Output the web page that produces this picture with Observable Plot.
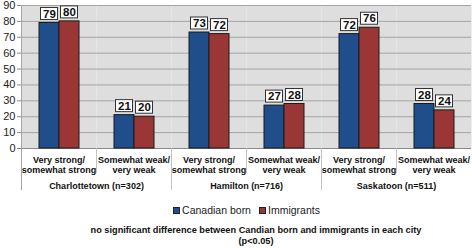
<!DOCTYPE html>
<html><head><meta charset="utf-8">
<script src="https://cdn.jsdelivr.net/npm/d3@7"></script>
<script src="https://cdn.jsdelivr.net/npm/@observablehq/plot@0.6"></script>
<style>
body{margin:0;background:#fff;font-family:"Liberation Sans",Arial,sans-serif;}
#chart{width:472px;height:248px;overflow:hidden}
#chart svg{display:block}
.legend{display:flex;justify-content:center;align-items:center;padding-left:21px;height:14px;margin-top:7px;font-size:10.5px;color:#222}
.legend span.item{display:flex;align-items:center;margin:0 4px}
.sw{display:inline-block;width:5px;height:5px;border:1px solid #222;margin-right:2px}
.caption{font-weight:bold;font-size:9.2px;line-height:10.5px;text-align:center;padding-left:40px;margin-top:8px;color:#111}
</style></head><body><div id="chart"></div>
<script>
const cities = ["Charlottetown (n=302)", "Hamilton (n=716)", "Saskatoon (n=511)"];
const categories = ["Very strong/\nsomewhat strong", "Somewhat weak/\nvery weak"];
const series = ["Canadian born", "Immigrants"];
const canadianBorn = [79, 21, 73, 27, 72, 28];
const immigrants = [80, 20, 72, 28, 76, 24];
const yTicks = [0, 10, 20, 30, 40, 50, 60, 70, 80, 90];
const colors = ["#1f4e8a", "#9a3636"];
const captionText = ["no significant difference between Candian born and immigrants in each city", "(p<0.05)"];

const groups = [];
cities.forEach((city, ci) => categories.forEach((cat, k) => {
  groups.push({key: city + " | " + cat, city, cat, cityIndex: ci, catIndex: k});
}));
const keys = groups.map(g => g.key);
const data = [];
groups.forEach((g, i) => {
  data.push({key: g.key, series: series[0], value: canadianBorn[i]});
  data.push({key: g.key, series: series[1], value: immigrants[i]});
});

const chart = Plot.plot({
  width: 472, height: 196,
  marginTop: 5, marginBottom: 48, marginLeft: 21, marginRight: 1,
  style: {fontFamily: "'Liberation Sans', Arial, sans-serif", background: "transparent", overflow: "visible"},
  fx: {domain: keys, padding: 0, axis: null, label: null},
  x: {domain: series, paddingInner: 0, paddingOuter: 0.79, axis: null, label: null},
  y: {domain: [0, 90], axis: null, label: null},
  color: {domain: series, range: colors},
  marks: [
    Plot.frame({fill: "#dedede", stroke: null}),
    Plot.gridY(yTicks, {stroke: "#a4a4a4", strokeOpacity: 1}),
    Plot.ruleY([0], {stroke: "#8a8a8a"}),
    Plot.axisY(yTicks, {label: null, tickSize: 4, tickPadding: 2, fontSize: 11, stroke: "#8a8a8a", fill: "#222"}),
    Plot.barY(data, {fx: "key", x: "series", y: "value", fill: "series", stroke: "#1a1a1a", strokeWidth: 1}),
    Plot.barY(data, {fx: "key", x: "series", y1: "value", y2: "value", insetTop: -15, insetBottom: 3, insetLeft: 1.5, insetRight: 1.5, fill: "white", stroke: "#333", strokeWidth: 1}),
    Plot.text(data, {fx: "key", x: "series", y: "value", text: d => String(d.value), dy: -9, fontWeight: "bold", fontSize: 11.5, fill: "#111"}),
    Plot.text(groups, {fx: "key", text: "cat", frameAnchor: "bottom", lineAnchor: "top", dy: 7.3, lineHeight: 1.15, fontSize: 9, fontWeight: "bold", fill: "#111"}),
    Plot.text(groups.filter(g => g.catIndex === 0), {fx: "key", text: "city", frameAnchor: "bottom-right", textAnchor: "middle", lineAnchor: "top", dy: 33.8, fontSize: 9, fontWeight: "bold", fill: "#111"})
  ]
});

document.getElementById("chart").appendChild(chart);

// separators below the axis at category boundaries, placed with the fx and y scales
const fxs = chart.scale("fx");
const ys = chart.scale("y");
const fxApply = fxs.apply ? fxs.apply : d3.scaleBand().domain(fxs.domain).range(fxs.range).padding(0);
const yBottom = ys.apply(0), yTop = ys.apply(90);
const sep = d3.select(chart).append("g").attr("stroke", "#c4c4c4").attr("stroke-width", 1);
groups.forEach((g, i) => {
  const x = Math.round(fxApply(g.key)) + 0.5;
  const long = g.catIndex === 0;
  sep.append("line")
    .attr("x1", x).attr("x2", x)
    .attr("y1", i === 0 ? yTop : yBottom)
    .attr("y2", yBottom + (long ? 42 : 25))
    .attr("stroke", i === 0 ? "#a4a4a4" : null);
});

// legend
const legend = d3.select("#chart").append("div").attr("class", "legend");
series.forEach((s, i) => {
  const item = legend.append("span").attr("class", "item");
  item.append("span").attr("class", "sw").style("background", colors[i]);
  item.append("span").text(s);
});
// caption
const cap = d3.select("#chart").append("div").attr("class", "caption");
captionText.forEach(t => cap.append("div").text(t));
</script>
</body></html>
